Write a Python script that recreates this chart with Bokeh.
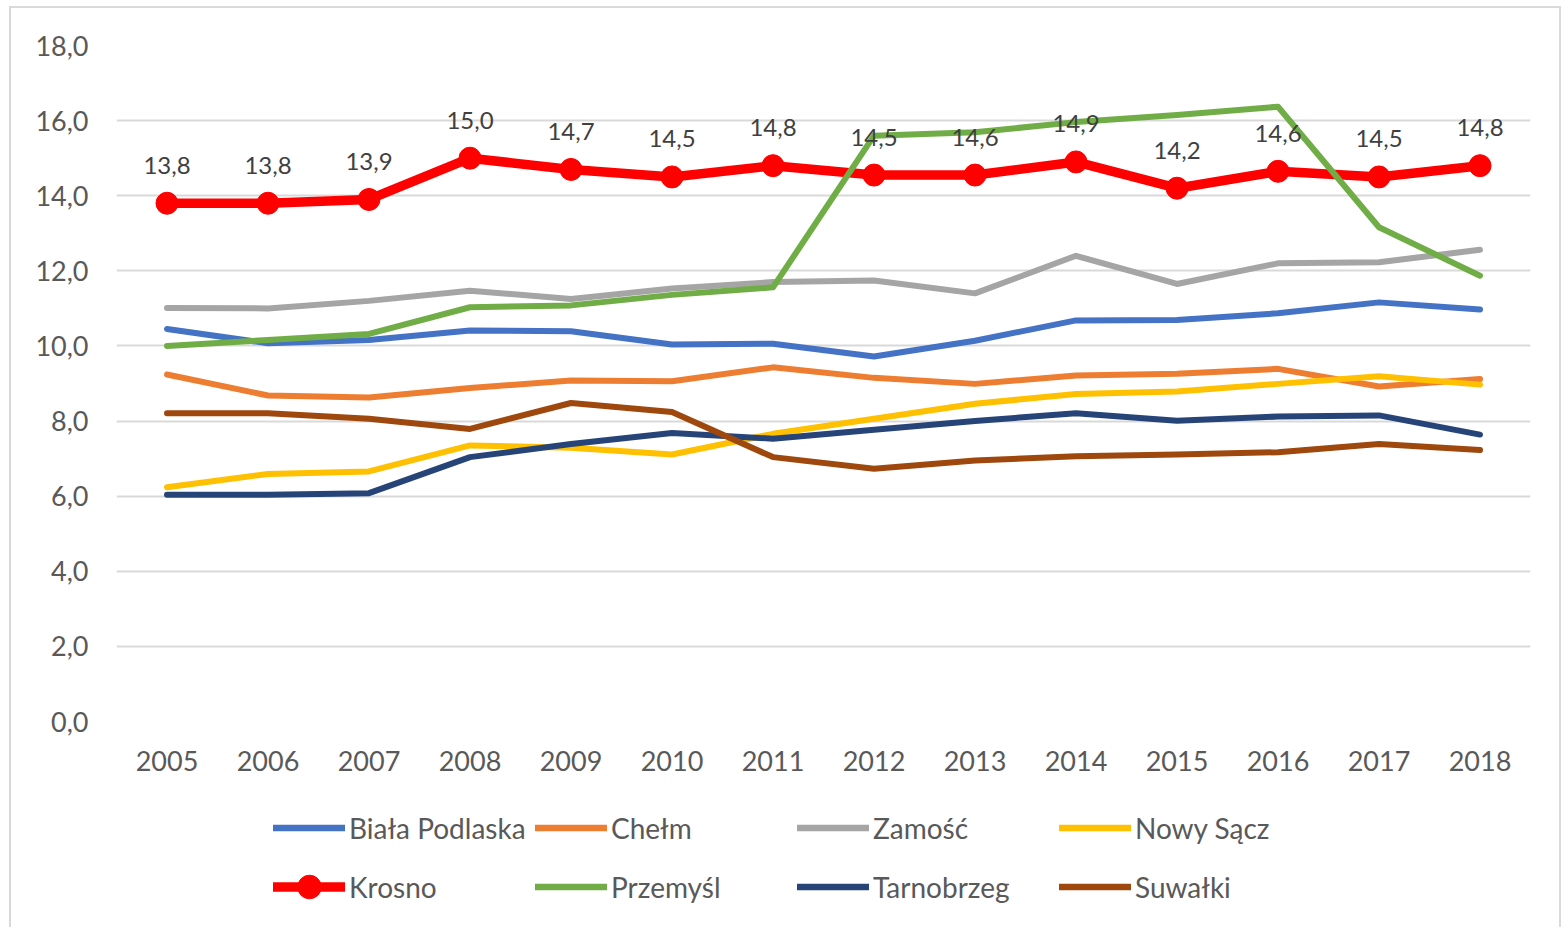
from bokeh.plotting import figure
from bokeh.models import (FactorRange, Range1d, Legend, LegendItem, ColumnDataSource,
                          CustomJSTickFormatter, FixedTicker)
from bokeh.layouts import column
from bokeh.core.properties import value
from bokeh.embed import file_html
from bokeh.resources import INLINE

years = [str(y) for y in range(2005, 2019)]

biala_podlaska = [10.45, 10.07, 10.16, 10.41, 10.39, 10.04, 10.06, 9.72, 10.14, 10.68, 10.69, 10.87, 11.16, 10.97]
chelm = [9.24, 8.68, 8.63, 8.88, 9.08, 9.06, 9.43, 9.15, 8.99, 9.21, 9.26, 9.39, 8.92, 9.12]
zamosc = [11.01, 11.0, 11.2, 11.47, 11.25, 11.53, 11.7, 11.74, 11.4, 12.4, 11.65, 12.2, 12.23, 12.56]
nowy_sacz = [6.24, 6.59, 6.66, 7.35, 7.29, 7.11, 7.66, 8.06, 8.46, 8.72, 8.79, 8.99, 9.19, 8.97]
krosno = [13.8, 13.8, 13.9, 15.0, 14.7, 14.5, 14.8, 14.55, 14.55, 14.9, 14.2, 14.65, 14.5, 14.8]
krosno_labels = ["13,8", "13,8", "13,9", "15,0", "14,7", "14,5", "14,8", "14,5", "14,6", "14,9", "14,2", "14,6", "14,5", "14,8"]
przemysl = [10.0, 10.16, 10.32, 11.03, 11.08, 11.36, 11.56, 15.6, 15.69, 15.96, 16.15, 16.37, 13.16, 11.87]
tarnobrzeg = [6.04, 6.04, 6.08, 7.04, 7.39, 7.68, 7.53, 7.77, 8.0, 8.21, 8.01, 8.12, 8.15, 7.64]
suwalki = [8.21, 8.21, 8.06, 7.79, 8.48, 8.24, 7.04, 6.73, 6.95, 7.06, 7.11, 7.17, 7.39, 7.23]

y_ticks = [0, 2, 4, 6, 8, 10, 12, 14, 16, 18]

series = [
    ("Biała Podlaska", biala_podlaska, "#4472C4"),
    ("Chełm", chelm, "#ED7D31"),
    ("Zamość", zamosc, "#A5A5A5"),
    ("Nowy Sącz", nowy_sacz, "#FFC000"),
    ("Krosno", krosno, "#FF0000"),
    ("Przemyśl", przemysl, "#70AD47"),
    ("Tarnobrzeg", tarnobrzeg, "#264478"),
    ("Suwałki", suwalki, "#9E480E"),
]

FONT = "Lato"
BORDER = "2px solid #D9D9D9"

p = figure(width=1552, height=787, x_range=FactorRange(*years, range_padding=0),
           y_range=Range1d(0, 18), output_backend="svg", toolbar_location=None,
           min_border_left=105, min_border_right=33, min_border_top=37, min_border_bottom=74)
p.styles = {"margin-left": "9px", "margin-top": "6px", "border-left": BORDER,
            "border-top": BORDER, "border-right": BORDER}
p.outline_line_color = None
p.background_fill_color = "white"
p.border_fill_color = "white"

p.xgrid.grid_line_color = None
p.ygrid.grid_line_color = "#D9D9D9"
p.ygrid.grid_line_width = 2
p.yaxis.ticker = FixedTicker(ticks=y_ticks)
p.yaxis.formatter = CustomJSTickFormatter(code="return tick.toFixed(1).replace('.', ',');")

for ax in (p.xaxis[0], p.yaxis[0]):
    ax.axis_line_color = None
    ax.major_tick_line_color = None
    ax.minor_tick_line_color = None
    ax.major_tick_out = 0
    ax.major_tick_in = 0
    ax.major_label_text_font = FONT
    ax.major_label_text_font_size = "27px"
    ax.major_label_text_color = "#595959"
p.yaxis.major_label_standoff = 28
p.xaxis.major_label_standoff = 29

# legend panel below the chart (its frame is aligned with the chart's frame)
pl = figure(width=1552, height=134, x_range=FactorRange(*years, range_padding=0),
            y_range=Range1d(100, 101),
            x_axis_type=None, y_axis_type=None, output_backend="svg", toolbar_location=None,
            min_border_left=105, min_border_right=33, min_border_top=0, min_border_bottom=0)
pl.styles = {"margin-left": "9px", "border-left": BORDER, "border-right": BORDER}
pl.outline_line_color = None
pl.grid.visible = False

items = []
for name, vals, color in series:
    src = ColumnDataSource(dict(x=years, y=vals))
    if name == "Krosno":
        p.line("x", "y", source=src, line_color=color, line_width=9.5,
               line_join="round", line_cap="round")
        p.scatter("x", "y", source=src, size=22, fill_color=color, line_color=color)
        lr = pl.line("x", "y", source=src, line_color=color, line_width=9.5, line_cap="round")
        sr = pl.scatter("x", "y", source=src, size=22, fill_color=color, line_color=color)
        items.append(LegendItem(label=name, renderers=[lr, sr]))
    else:
        p.line("x", "y", source=src, line_color=color, line_width=6,
               line_join="round", line_cap="round")
        lr = pl.line("x", "y", source=src, line_color=color, line_width=6.5, line_cap="round")
        items.append(LegendItem(label=name, renderers=[lr]))

lab_src = ColumnDataSource(dict(x=years, y=krosno, t=krosno_labels))
p.text("x", "y", text="t", source=lab_src, text_align="center", text_baseline="middle",
       y_offset=-38, text_font=value(FONT), text_font_size="24px", text_color="#404040")

legend = Legend(items=items, orientation="horizontal", ncols=4, location=(157, 11),
                glyph_width=72, glyph_height=59, label_width=186, label_standoff=4,
                spacing=0, padding=0, margin=0, border_line_color=None,
                background_fill_alpha=0, label_text_font=FONT,
                label_text_font_size="28px", label_text_color="#595959")
pl.add_layout(legend, "center")

layout = column(p, pl, spacing=0)
open("out.html", "w").write(file_html(layout, INLINE))
